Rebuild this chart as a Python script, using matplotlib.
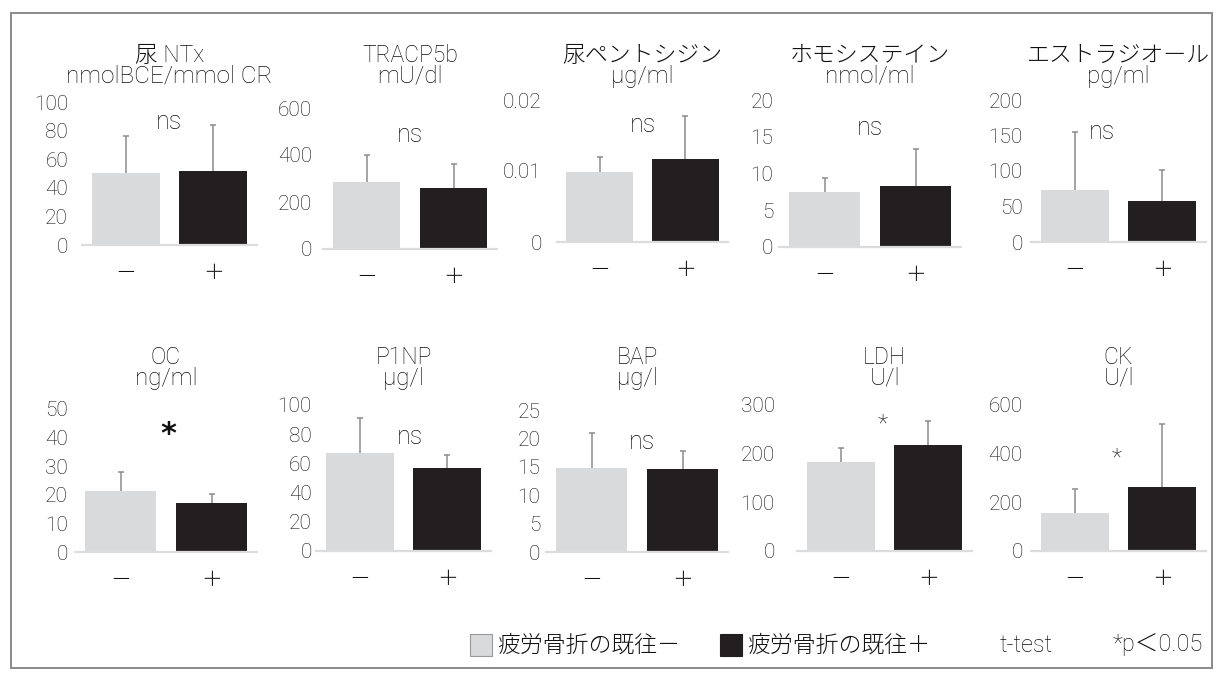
import matplotlib
matplotlib.use("Agg")
import matplotlib.pyplot as plt
from matplotlib.patches import Rectangle

plt.rcParams['font.family'] = ['Roboto', 'Noto Sans CJK JP', 'DejaVu Sans']

# ---- data -------------------------------------------------------------
groups = ["－", "＋"]
legend_labels = ["疲労骨折の既往－", "疲労骨折の既往＋"]

titles = ["尿 NTx", "TRACP5b", "尿ペントシジン", "ホモシステイン", "エストラジオール",
          "OC", "P1NP", "BAP", "LDH", "CK"]
units = ["nmolBCE/mmol CR", "mU/dl", "μg/ml", "nmol/ml", "pg/ml",
         "ng/ml", "μg/l", "μg/l", "U/l", "U/l"]

means = [
    [50.3, 51.7],
    [285, 260],
    [0.0099, 0.0117],
    [7.5, 8.3],
    [73, 58],
    [21.3, 17.1],
    [67, 57],
    [14.8, 14.6],
    [183, 218],
    [156, 263],
]
sds = [
    [25.7, 32.3],
    [115, 102],
    [0.0021, 0.0060],
    [1.9, 5.0],
    [82, 43],
    [6.7, 3.2],
    [24, 9],
    [6.1, 3.2],
    [29, 49],
    [99, 259],
]
yticks = [
    [0, 20, 40, 60, 80, 100],
    [0, 200, 400, 600],
    [0, 0.01, 0.02],
    [0, 5, 10, 15, 20],
    [0, 50, 100, 150, 200],
    [0, 10, 20, 30, 40, 50],
    [0, 20, 40, 60, 80, 100],
    [0, 5, 10, 15, 20, 25],
    [0, 100, 200, 300],
    [0, 200, 400, 600],
]
ytick_labels = [
    ["0", "20", "40", "60", "80", "100"],
    ["0", "200", "400", "600"],
    ["0", "0.01", "0.02"],
    ["0", "5", "10", "15", "20"],
    ["0", "50", "100", "150", "200"],
    ["0", "10", "20", "30", "40", "50"],
    ["0", "20", "40", "60", "80", "100"],
    ["0", "5", "10", "15", "20", "25"],
    ["0", "100", "200", "300"],
    ["0", "200", "400", "600"],
]
significance = ["ns", "ns", "ns", "ns", "ns", "*", "ns", "ns", "*", "*"]
footnote_test = "t-test"
footnote_p = "*p＜0.05"

# ---- layout (pixels on a 1223 x 680 canvas) ---------------------------
W, H = 1223, 680
# x_left, x_right, y_top_tick, y_zero, tick-label pad (pt)
boxes = [
    (82, 257, 102, 245, 10),
    (323, 497, 108, 249, 8),
    (557, 728, 100, 242, 11),
    (779, 961, 100, 247, 4),
    (1031, 1206, 100, 242, 6),
    (75, 257, 409, 552, 5),
    (316, 491, 405, 551, 3),
    (546, 728, 410, 552, 4),
    (797, 972, 405, 551, 16),
    (1031, 1206, 405, 551, 6),
]
# annotation anchor in data coords (x, y)
sig_pos = [
    (0.5, 86), (0.5, 485), (0.5, 0.0165), (0.5, 16.2), (0.31, 155),
    (0.53, 41), (0.57, 78), (0.55, 19.4), (0.48, 261), (0.48, 382),
]
title_rows = [(55, 76), (357, 378)]

LIGHT = "#d9dadc"
DARK = "#231f20"
TEXT = "#111111"
ERR = "#8c8c8c"
WEIGHT = "light"

fig = plt.figure(figsize=(W / 100, H / 100), dpi=100)

# outer frame
fig.patches.append(Rectangle((11 / W, 1 - 668 / H), (1212 - 11) / W, (668 - 13) / H,
                             transform=fig.transFigure, fill=False,
                             edgecolor="#8a8a8a", linewidth=1.4))

for i in range(10):
    x0, x1, yt, yz, pad = boxes[i]
    ax = fig.add_axes([x0 / W, 1 - yz / H, (x1 - x0) / W, (yz - yt) / H])
    ax.patch.set_alpha(0)
    top = yticks[i][-1]
    ax.set_ylim(0, top)
    ax.set_xlim(-0.5, 1.5)
    ax.bar([0, 1], means[i], width=0.78, color=[LIGHT, DARK], zorder=2)
    eb = ax.errorbar([0, 1], means[i], yerr=[[0, 0], sds[i]], fmt="none",
                     ecolor=ERR, elinewidth=1.1, capsize=2.5, capthick=1.1,
                     zorder=1, clip_on=False)
    # only the upper cap is shown
    eb[1][0].set_visible(False)
    for s in ("top", "right", "left"):
        ax.spines[s].set_visible(False)
    ax.spines["bottom"].set_color("#dcdcdc")
    ax.spines["bottom"].set_linewidth(1.6)
    ax.spines["bottom"].set_zorder(3)
    ax.set_yticks(yticks[i])
    ax.set_yticklabels(ytick_labels[i])
    ax.set_xticks([0, 1])
    ax.set_xticklabels(groups)
    ax.tick_params(axis="y", length=0, pad=pad, labelsize=15, labelcolor=TEXT)
    ax.tick_params(axis="x", length=0, pad=14, labelsize=15, labelcolor=TEXT)
    for lab in ax.get_yticklabels() + ax.get_xticklabels():
        lab.set_fontweight(WEIGHT)

    sx, sy = sig_pos[i]
    if significance[i] == "ns":
        ax.text(sx, sy, "ns", ha="center", va="center", fontsize=18,
                color=TEXT, fontweight=WEIGHT)
    else:
        big = (i == 5)
        ax.text(sx, sy, "*", ha="center", va="center",
                fontsize=22 if big else 17, color=TEXT,
                fontweight="bold" if big else WEIGHT,
                family=["DejaVu Sans"] if big else None)

    cx = (x0 + x1) / 2 / W
    r1, r2 = title_rows[0] if i < 5 else title_rows[1]
    fig.text(cx, 1 - r1 / H, titles[i], ha="center", va="center",
             fontsize=16.5, color=TEXT, fontweight=WEIGHT)
    fig.text(cx, 1 - r2 / H, units[i], ha="center", va="center",
             fontsize=17.5, color=TEXT, fontweight=WEIGHT)

# legend row
ly = 645
for (sx0, tx0), col, lab in zip([(470, 497), (720, 747)], [LIGHT, DARK], legend_labels):
    fig.patches.append(Rectangle((sx0 / W, 1 - (ly + 11) / H), 22 / W, 22 / H,
                                 transform=fig.transFigure, facecolor=col,
                                 edgecolor="#9a9a9a" if col == LIGHT else DARK,
                                 linewidth=0.8))
    fig.text(tx0 / W, 1 - ly / H, lab, ha="left", va="center", fontsize=16.5,
             color=TEXT, fontweight=WEIGHT)
fig.text(1000 / W, 1 - ly / H, footnote_test, ha="left", va="center",
         fontsize=17, color=TEXT, fontweight=WEIGHT)
fig.text(1203 / W, 1 - ly / H, footnote_p, ha="right", va="center",
         fontsize=17, color=TEXT, fontweight=WEIGHT)

fig.savefig("out.png", dpi=100, facecolor="white")
